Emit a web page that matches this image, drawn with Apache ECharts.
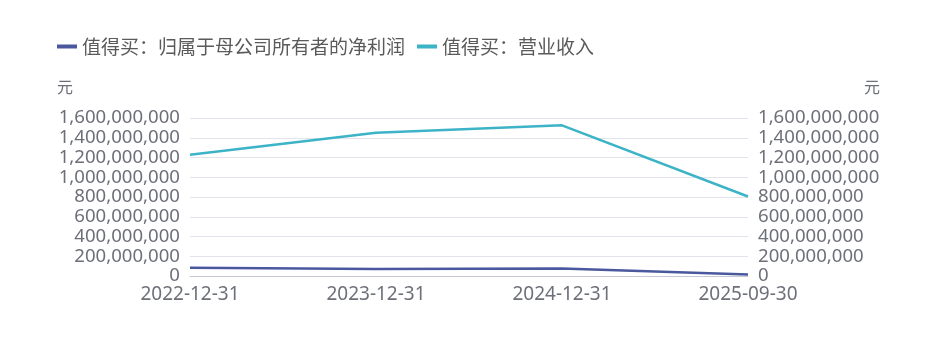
<!DOCTYPE html>
<html><head><meta charset="utf-8">
<script src="https://cdn.jsdelivr.net/npm/echarts@6/dist/echarts.min.js"></script>
<style>html,body{margin:0;padding:0;background:#fff}#c{width:937px;height:339px}</style>
</head><body><div id="c"></div>
<script>
var categories = ['2022-12-31', '2023-12-31', '2024-12-31', '2025-09-30'];
var netProfit = [84000000, 72000000, 76000000, 14000000];
var revenue = [1228000000, 1451000000, 1526000000, 805000000];
var seriesNames = ['值得买：归属于母公司所有者的净利润', '值得买：营业收入'];
var unitName = '元';

var font = '"Noto Sans", "Noto Sans CJK SC", sans-serif';
var chart = echarts.init(document.getElementById('c'));
function yAxis(pos) {
  return {
    type: 'value', position: pos, name: unitName, nameGap: 18, min: 0, max: 1600000000, interval: 200000000,
    nameTextStyle: pos === 'left'
      ? { color: '#6e7079', fontSize: 16, fontFamily: font, align: 'right', padding: [0, 117, 4, 0] }
      : { color: '#6e7079', fontSize: 16, fontFamily: font, align: 'left', padding: [0, 0, 4, 116] },
    axisLine: { show: false }, axisTick: { show: false },
    axisLabel: { color: '#6e7079', fontSize: 18.6, fontFamily: font, margin: 10,
      formatter: function (v) { return v.toLocaleString('en-US'); } },
    splitLine: { show: pos === 'left', lineStyle: { color: '#e3e3ec' } }
  };
}
chart.setOption({
  animation: false,
  legend: { left: 52, top: 32, icon: 'rect', itemWidth: 20, itemHeight: 4, itemGap: 12,
    textStyle: { color: '#5a5a5a', fontSize: 19, fontFamily: '"Noto Sans CJK SC", sans-serif' } },
  grid: { left: 190, right: 189, top: 118, bottom: 63 },
  xAxis: { type: 'category', data: categories, boundaryGap: false,
    axisLine: { lineStyle: { color: '#c8c8d4' } }, axisTick: { show: false },
    axisLabel: { color: '#6e7079', fontSize: 19, fontFamily: font, margin: 9 } },
  yAxis: [yAxis('left'), yAxis('right')],
  series: [
    { name: seriesNames[0], type: 'line', data: netProfit, yAxisIndex: 0, showSymbol: false,
      lineStyle: { width: 2.5, color: '#4a589e' }, itemStyle: { color: '#4a589e' } },
    { name: seriesNames[1], type: 'line', data: revenue, yAxisIndex: 1, showSymbol: false,
      lineStyle: { width: 2.5, color: '#3db3c7' }, itemStyle: { color: '#3db3c7' } }
  ]
});
</script></body></html>
